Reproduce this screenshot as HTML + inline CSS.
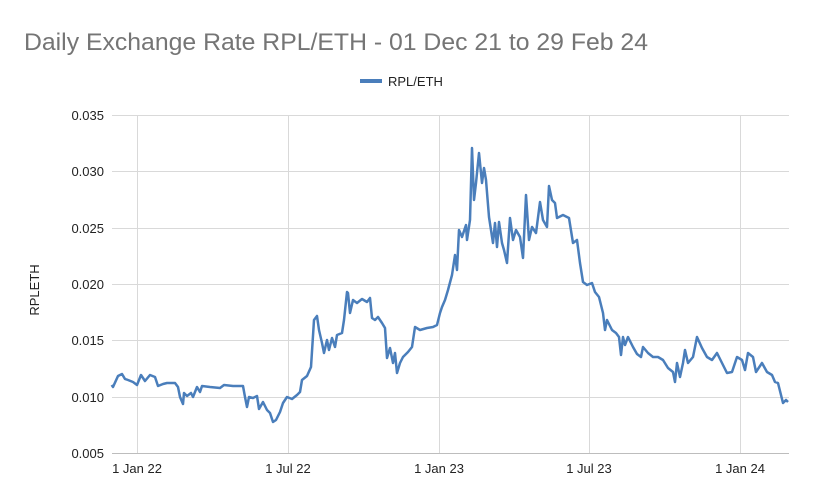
<!DOCTYPE html>
<html><head><style>body{margin:0;background:#fff;}svg{display:block;font-family:"Liberation Sans",Arial,sans-serif;}</style></head>
<body>
<svg width="814" height="504" viewBox="0 0 814 504">
<rect width="814" height="504" fill="#fff"/>
<text x="24" y="50" font-size="24.5" fill="#757575" textLength="624" lengthAdjust="spacingAndGlyphs">Daily Exchange Rate RPL/ETH - 01 Dec 21 to 29 Feb 24</text>
<line x1="360" y1="81" x2="382" y2="81" stroke="#4a7ebb" stroke-width="4"/>
<text x="388" y="86" font-size="13" fill="#222">RPL/ETH</text>
<g stroke="#d9d9d9" stroke-width="1">
<line x1="112" y1="115.5" x2="789" y2="115.5"/><line x1="112" y1="171.5" x2="789" y2="171.5"/>
<line x1="112" y1="228.5" x2="789" y2="228.5"/><line x1="112" y1="284.5" x2="789" y2="284.5"/>
<line x1="112" y1="340.5" x2="789" y2="340.5"/><line x1="112" y1="397.5" x2="789" y2="397.5"/>
<line x1="137.5" y1="115" x2="137.5" y2="453"/><line x1="288.5" y1="115" x2="288.5" y2="453"/>
<line x1="439.5" y1="115" x2="439.5" y2="453"/><line x1="589.5" y1="115" x2="589.5" y2="453"/>
<line x1="740.5" y1="115" x2="740.5" y2="453"/>
</g>
<line x1="112" y1="453.5" x2="789" y2="453.5" stroke="#bdbdbd"/>
<g font-size="13" fill="#222" text-anchor="end">
<text x="104" y="120">0.035</text><text x="104" y="176">0.030</text><text x="104" y="233">0.025</text>
<text x="104" y="289">0.020</text><text x="104" y="345">0.015</text><text x="104" y="402">0.010</text>
<text x="104" y="458">0.005</text>
</g>
<g font-size="13" fill="#222" text-anchor="middle">
<text x="137" y="473">1 Jan 22</text><text x="288" y="473">1 Jul 22</text><text x="439" y="473">1 Jan 23</text>
<text x="589" y="473">1 Jul 23</text><text x="740" y="473">1 Jan 24</text>
</g>
<text transform="translate(39,290) rotate(-90)" font-size="13" fill="#222" text-anchor="middle">RPLETH</text>
<polyline fill="none" stroke="#4a7ebb" stroke-width="2.5" stroke-linejoin="round" points="
111.7,385 113,387 118,376 122,374 125,379 128,380 133,382 137,385 141,375 145,381 150,375 155,377 158,386 163,384 167,383 175,383 178,387 180,397 183,404 184,393 187,396 191,393 193,397 197,387 200,392 202,386 210,387 220,388 224,385 233,386 243,386 245,397 247,407 249,397 253,398 257,396 259,409 263,402 267,410 270,413 273,422 276,420 280,412 283,403 287,397 292,399 297,395 300,392 302,380 307,376 311,367 314,320 317,316 319,330 322,343 324,353 327,340 329,350 332,338 335,347 337,335 342,333 344,320 347,292 348,293 350,313 353,300 357,303 362,299 367,302 370,298 372,318 375,320 378,317 382,323 385,328 387,358 390,348 393,363 395,353 397,373 400,363 403,357 408,352 412,347 415,327 420,330 427,328 433,327 437,325 440,313 442,307 445,300 448,290 452,275 455,255 457,270 459,230 462,237 466,225 467,240 470,220 472,148 474,200 476,183 479,153 482,183 484,168 486,180 489,217 493,243 495,223 497,247 499,222 502,243 504,250 507,263 510,218 513,240 516,230 520,237 523,258 526,195 529,240 532,227 536,233 540,202 543,220 547,227 549,186 552,200 555,203 557,218 563,215 569,218 573,243 577,240 580,263 583,282 587,285 592,283 595,292 599,297 603,313 605,330 607,320 612,330 616,333 619,337 621,355 623,337 625,345 628,337 633,347 637,354 641,357 643,347 648,353 653,357 658,357 663,360 668,368 673,372 675,382 677,363 680,377 683,363 685,350 688,363 693,357 697,337 702,348 707,357 712,360 717,353 722,363 727,373 732,372 737,357 742,360 745,370 748,353 753,357 756,372 762,363 767,372 772,375 775,382 778,383 783,403 786,400 788,402"/>
</svg>
</body></html>
